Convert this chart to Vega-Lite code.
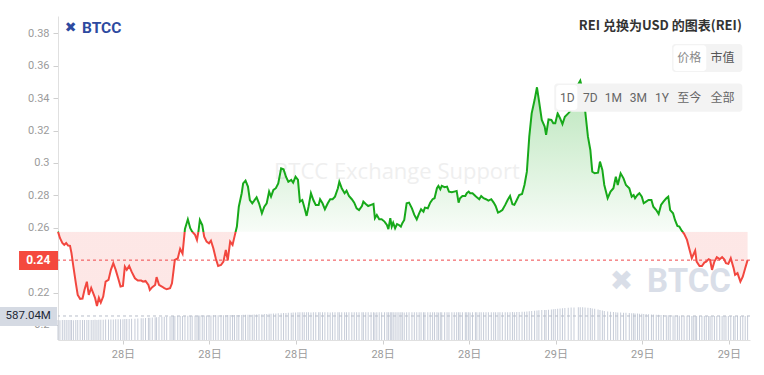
{
"$schema": "https://vega.github.io/schema/vega-lite/v6.json",
"width": 692, "height": 324,
"autosize": "none",
"padding": {"left": 58, "top": 16, "right": 14, "bottom": 35},
"background": "white",
"config": {
  "view": {"stroke": null},
  "axis": {"grid": false, "labelFont": "Roboto, Noto Sans CJK SC", "labelFontSize": 11, "labelColor": "#9b9b9b", "tickColor": "#cfcfcf", "domainColor": "#e0e0e0"},
  "axisX": {"tickSize": 4, "labelPadding": 4},
  "axisY": {"tickSize": 5, "labelPadding": 4}
},
"data": {"values": [
{"m":405,"p":0.2576,"v":489},{"m":409,"p":0.2537,"v":486},{"m":414,"p":0.2506,"v":490},{"m":418,"p":0.2494,"v":488},{"m":422,"p":0.2506,"v":491},{"m":426,"p":0.2490,"v":487},{"m":430,"p":0.2488,"v":489},{"m":433,"p":0.2444,"v":490},{"m":437,"p":0.2360,"v":486},{"m":442,"p":0.2259,"v":489},
{"m":446,"p":0.2185,"v":492},{"m":451,"p":0.2161,"v":488},{"m":456,"p":0.2163,"v":490},{"m":460,"p":0.2216,"v":487},{"m":465,"p":0.2267,"v":491},{"m":469,"p":0.2185,"v":489},{"m":474,"p":0.2229,"v":492},{"m":478,"p":0.2198,"v":490},{"m":482,"p":0.2167,"v":493},{"m":486,"p":0.2117,"v":491},
{"m":490,"p":0.2167,"v":495},{"m":494,"p":0.2138,"v":497},{"m":499,"p":0.2175,"v":496},{"m":504,"p":0.2267,"v":499},{"m":510,"p":0.2278,"v":501},{"m":515,"p":0.2340,"v":503},{"m":520,"p":0.2381,"v":502},{"m":525,"p":0.2340,"v":505},{"m":530,"p":0.2290,"v":507},{"m":535,"p":0.2237,"v":506},
{"m":540,"p":0.2241,"v":509},{"m":544,"p":0.2360,"v":511},{"m":548,"p":0.2340,"v":512},{"m":553,"p":0.2364,"v":515},{"m":558,"p":0.2329,"v":518},{"m":565,"p":0.2288,"v":521},{"m":571,"p":0.2274,"v":526},{"m":578,"p":0.2274,"v":531},{"m":582,"p":0.2267,"v":535},{"m":587,"p":0.2272,"v":539},
{"m":593,"p":0.2247,"v":544},{"m":596,"p":0.2216,"v":547},{"m":601,"p":0.2233,"v":551},{"m":607,"p":0.2247,"v":556},{"m":610,"p":0.2295,"v":558},{"m":615,"p":0.2247,"v":563},{"m":621,"p":0.2237,"v":567},{"m":626,"p":0.2227,"v":571},{"m":631,"p":0.2220,"v":575},{"m":638,"p":0.2227,"v":579},
{"m":642,"p":0.2257,"v":582},{"m":645,"p":0.2329,"v":584},{"m":648,"p":0.2401,"v":586},{"m":654,"p":0.2410,"v":588},{"m":659,"p":0.2470,"v":589},{"m":664,"p":0.2440,"v":590},{"m":669,"p":0.2593,"v":591},{"m":675,"p":0.2652,"v":592},{"m":680,"p":0.2597,"v":594},{"m":684,"p":0.2576,"v":593},
{"m":690,"p":0.2556,"v":595},{"m":694,"p":0.2525,"v":596},{"m":697,"p":0.2576,"v":597},{"m":700,"p":0.2648,"v":598},{"m":705,"p":0.2617,"v":598},{"m":709,"p":0.2545,"v":599},{"m":714,"p":0.2514,"v":600},{"m":719,"p":0.2504,"v":601},{"m":723,"p":0.2520,"v":602},{"m":728,"p":0.2473,"v":603},
{"m":733,"p":0.2412,"v":604},{"m":738,"p":0.2364,"v":605},{"m":744,"p":0.2370,"v":606},{"m":749,"p":0.2391,"v":607},{"m":754,"p":0.2463,"v":608},{"m":758,"p":0.2399,"v":609},{"m":763,"p":0.2514,"v":610},{"m":768,"p":0.2494,"v":611},{"m":772,"p":0.2545,"v":612},{"m":777,"p":0.2607,"v":612},
{"m":781,"p":0.2730,"v":613},{"m":787,"p":0.2813,"v":614},{"m":790,"p":0.2874,"v":615},{"m":795,"p":0.2891,"v":616},{"m":800,"p":0.2854,"v":617},{"m":804,"p":0.2771,"v":618},{"m":809,"p":0.2751,"v":620},{"m":813,"p":0.2767,"v":623},{"m":818,"p":0.2788,"v":626},{"m":823,"p":0.2751,"v":629},
{"m":829,"p":0.2689,"v":632},{"m":834,"p":0.2730,"v":635},{"m":839,"p":0.2751,"v":638},{"m":844,"p":0.2823,"v":641},{"m":848,"p":0.2792,"v":644},{"m":853,"p":0.2833,"v":647},{"m":858,"p":0.2844,"v":650},{"m":863,"p":0.2874,"v":653},{"m":869,"p":0.2967,"v":656},{"m":874,"p":0.2961,"v":659},
{"m":879,"p":0.2915,"v":662},{"m":884,"p":0.2884,"v":665},{"m":890,"p":0.2895,"v":668},{"m":894,"p":0.2878,"v":671},{"m":899,"p":0.2915,"v":674},{"m":904,"p":0.2895,"v":676},{"m":908,"p":0.2761,"v":677},{"m":913,"p":0.2771,"v":679},{"m":917,"p":0.2730,"v":676},{"m":922,"p":0.2673,"v":680},
{"m":926,"p":0.2730,"v":678},{"m":931,"p":0.2813,"v":675},{"m":936,"p":0.2771,"v":679},{"m":941,"p":0.2741,"v":677},{"m":947,"p":0.2741,"v":680},{"m":950,"p":0.2776,"v":676},{"m":955,"p":0.2751,"v":678},{"m":960,"p":0.2714,"v":681},{"m":966,"p":0.2751,"v":677},{"m":971,"p":0.2776,"v":675},
{"m":976,"p":0.2776,"v":679},{"m":981,"p":0.2792,"v":678},{"m":987,"p":0.2844,"v":680},{"m":990,"p":0.2884,"v":676},{"m":995,"p":0.2844,"v":679},{"m":1001,"p":0.2813,"v":677},{"m":1005,"p":0.2829,"v":681},{"m":1010,"p":0.2796,"v":678},{"m":1016,"p":0.2776,"v":676},{"m":1021,"p":0.2755,"v":679},
{"m":1026,"p":0.2720,"v":677},{"m":1031,"p":0.2709,"v":680},{"m":1037,"p":0.2734,"v":678},{"m":1040,"p":0.2761,"v":676},{"m":1045,"p":0.2747,"v":679},{"m":1050,"p":0.2734,"v":677},{"m":1056,"p":0.2741,"v":680},{"m":1061,"p":0.2747,"v":678},{"m":1064,"p":0.2659,"v":675},{"m":1068,"p":0.2679,"v":679},
{"m":1073,"p":0.2652,"v":677},{"m":1078,"p":0.2652,"v":680},{"m":1084,"p":0.2638,"v":678},{"m":1089,"p":0.2617,"v":676},{"m":1092,"p":0.2591,"v":679},{"m":1096,"p":0.2659,"v":677},{"m":1099,"p":0.2607,"v":681},{"m":1102,"p":0.2631,"v":678},{"m":1106,"p":0.2597,"v":676},{"m":1110,"p":0.2623,"v":679},
{"m":1114,"p":0.2617,"v":677},{"m":1118,"p":0.2607,"v":680},{"m":1121,"p":0.2628,"v":678},{"m":1125,"p":0.2648,"v":675},{"m":1130,"p":0.2751,"v":679},{"m":1135,"p":0.2755,"v":677},{"m":1141,"p":0.2720,"v":680},{"m":1146,"p":0.2679,"v":678},{"m":1151,"p":0.2652,"v":676},{"m":1156,"p":0.2689,"v":679},
{"m":1160,"p":0.2714,"v":677},{"m":1165,"p":0.2699,"v":681},{"m":1168,"p":0.2724,"v":678},{"m":1174,"p":0.2720,"v":676},{"m":1179,"p":0.2755,"v":679},{"m":1184,"p":0.2776,"v":677},{"m":1188,"p":0.2782,"v":680},{"m":1193,"p":0.2844,"v":678},{"m":1196,"p":0.2858,"v":675},{"m":1200,"p":0.2837,"v":679},
{"m":1203,"p":0.2858,"v":677},{"m":1209,"p":0.2850,"v":680},{"m":1214,"p":0.2854,"v":678},{"m":1218,"p":0.2823,"v":676},{"m":1224,"p":0.2819,"v":679},{"m":1229,"p":0.2823,"v":677},{"m":1234,"p":0.2827,"v":681},{"m":1238,"p":0.2755,"v":678},{"m":1241,"p":0.2782,"v":676},{"m":1246,"p":0.2796,"v":679},
{"m":1252,"p":0.2796,"v":677},{"m":1255,"p":0.2813,"v":680},{"m":1259,"p":0.2823,"v":678},{"m":1262,"p":0.2813,"v":675},{"m":1267,"p":0.2813,"v":679},{"m":1273,"p":0.2796,"v":677},{"m":1276,"p":0.2788,"v":680},{"m":1281,"p":0.2776,"v":678},{"m":1285,"p":0.2796,"v":676},{"m":1290,"p":0.2782,"v":679},
{"m":1295,"p":0.2776,"v":677},{"m":1300,"p":0.2767,"v":681},{"m":1306,"p":0.2776,"v":678},{"m":1311,"p":0.2755,"v":676},{"m":1315,"p":0.2734,"v":679},{"m":1320,"p":0.2693,"v":677},{"m":1324,"p":0.2699,"v":680},{"m":1329,"p":0.2709,"v":678},{"m":1335,"p":0.2741,"v":676},{"m":1340,"p":0.2771,"v":679},
{"m":1345,"p":0.2796,"v":680},{"m":1350,"p":0.2745,"v":682},{"m":1354,"p":0.2741,"v":681},{"m":1359,"p":0.2771,"v":684},{"m":1364,"p":0.2802,"v":686},{"m":1370,"p":0.2808,"v":688},{"m":1375,"p":0.2864,"v":691},{"m":1380,"p":0.2946,"v":697},{"m":1385,"p":0.3162,"v":703},{"m":1390,"p":0.3306,"v":710},
{"m":1396,"p":0.3388,"v":716},{"m":1401,"p":0.3467,"v":722},{"m":1405,"p":0.3388,"v":727},{"m":1411,"p":0.3265,"v":731},{"m":1417,"p":0.3224,"v":734},{"m":1420,"p":0.3173,"v":736},{"m":1425,"p":0.3269,"v":742},{"m":1431,"p":0.3265,"v":749},{"m":1435,"p":0.3245,"v":754},{"m":1439,"p":0.3245,"v":760},
{"m":1444,"p":0.3306,"v":766},{"m":1449,"p":0.3276,"v":772},{"m":1454,"p":0.3240,"v":777},{"m":1459,"p":0.3285,"v":782},{"m":1466,"p":0.3306,"v":788},{"m":1472,"p":0.3327,"v":793},{"m":1478,"p":0.3388,"v":797},{"m":1487,"p":0.3487,"v":800},{"m":1491,"p":0.3508,"v":801},{"m":1496,"p":0.3450,"v":799},
{"m":1501,"p":0.3327,"v":797},{"m":1507,"p":0.3162,"v":790},{"m":1512,"p":0.3080,"v":780},{"m":1516,"p":0.2946,"v":772},{"m":1521,"p":0.2936,"v":762},{"m":1528,"p":0.2940,"v":745},{"m":1532,"p":0.3008,"v":735},{"m":1537,"p":0.2957,"v":722},{"m":1541,"p":0.2864,"v":712},{"m":1548,"p":0.2782,"v":700},
{"m":1554,"p":0.2823,"v":692},{"m":1560,"p":0.2844,"v":685},{"m":1565,"p":0.2915,"v":678},{"m":1569,"p":0.2864,"v":674},{"m":1575,"p":0.2936,"v":670},{"m":1581,"p":0.2905,"v":667},{"m":1586,"p":0.2864,"v":664},{"m":1593,"p":0.2844,"v":660},{"m":1598,"p":0.2792,"v":656},{"m":1602,"p":0.2802,"v":652},
{"m":1605,"p":0.2782,"v":649},{"m":1610,"p":0.2802,"v":646},{"m":1614,"p":0.2813,"v":643},{"m":1619,"p":0.2792,"v":640},{"m":1623,"p":0.2751,"v":637},{"m":1628,"p":0.2761,"v":634},{"m":1633,"p":0.2771,"v":630},{"m":1639,"p":0.2771,"v":626},{"m":1643,"p":0.2730,"v":622},{"m":1649,"p":0.2709,"v":619},
{"m":1654,"p":0.2685,"v":616},{"m":1659,"p":0.2741,"v":613},{"m":1664,"p":0.2761,"v":610},{"m":1670,"p":0.2782,"v":607},{"m":1674,"p":0.2792,"v":605},{"m":1678,"p":0.2709,"v":603},{"m":1684,"p":0.2689,"v":601},{"m":1688,"p":0.2648,"v":599},{"m":1693,"p":0.2611,"v":597},{"m":1697,"p":0.2607,"v":595},
{"m":1702,"p":0.2582,"v":594},{"m":1707,"p":0.2562,"v":593},{"m":1713,"p":0.2525,"v":591},{"m":1718,"p":0.2467,"v":590},{"m":1723,"p":0.2412,"v":589},{"m":1726,"p":0.2432,"v":588},{"m":1730,"p":0.2459,"v":590},{"m":1733,"p":0.2391,"v":587},{"m":1739,"p":0.2364,"v":589},{"m":1744,"p":0.2364,"v":588},
{"m":1749,"p":0.2385,"v":590},{"m":1753,"p":0.2391,"v":587},{"m":1758,"p":0.2406,"v":589},{"m":1761,"p":0.2401,"v":588},{"m":1765,"p":0.2340,"v":590},{"m":1770,"p":0.2391,"v":587},{"m":1775,"p":0.2418,"v":589},{"m":1781,"p":0.2406,"v":588},{"m":1786,"p":0.2418,"v":590},{"m":1790,"p":0.2406,"v":587},
{"m":1794,"p":0.2381,"v":589},{"m":1799,"p":0.2377,"v":588},{"m":1804,"p":0.2412,"v":590},{"m":1810,"p":0.2350,"v":587},{"m":1813,"p":0.2309,"v":589},{"m":1818,"p":0.2320,"v":588},{"m":1824,"p":0.2267,"v":590},{"m":1829,"p":0.2298,"v":588},{"m":1834,"p":0.2350,"v":589},{"m":1839,"p":0.2400,"v":587.04}
]},
"layer": [
 {"data": {"values": [{}]}, "layer": [
    {"mark": {"type": "text", "text": "BTCC Exchange Support", "font": "Open Sans", "fontSize": 22, "color": "#efefef", "align": "center", "baseline": "middle"},
     "encoding": {"x": {"datum": 1110}, "y": {"datum": 0.2946, "scale": {"domain": [0.1907, 0.3907], "nice": false, "zero": false}, "axis": null}}},
    {"mark": {"type": "text", "text": "✖", "font": "DejaVu Sans", "fontSize": 28, "fontWeight": "bold", "color": "#d9dee8", "align": "center", "baseline": "middle"},
     "encoding": {"x": {"datum": 1577}, "y": {"datum": 0.2262, "axis": null}}},
    {"mark": {"type": "text", "text": "BTCC", "font": "Roboto", "fontSize": 33, "fontWeight": "bold", "color": "#d9dee8", "align": "left", "baseline": "middle"},
     "encoding": {"x": {"datum": 1630}, "y": {"datum": 0.2262, "axis": null}}}
 ]},
 {"layer": [
  {"mark": {"type": "area", "fill": {"gradient": "linear", "x1": 0, "y1": 0, "x2": 0, "y2": 1, "stops": [
      {"offset": 0, "color": "rgba(23,169,26,0.30)"}, {"offset": 0.6705, "color": "rgba(23,169,26,0.03)"},
      {"offset": 0.6705, "color": "rgba(242,71,63,0.13)"}, {"offset": 1, "color": "rgba(242,71,63,0.13)"}]}},
   "encoding": {
     "x": {"field": "m", "type": "quantitative", "scale": {"domain": [405, 1844], "nice": false, "zero": false, "padding": 0},
           "axis": {"values": [540, 720, 900, 1080, 1260, 1440, 1620, 1800], "labelExpr": "datum.value < 1440 ? '28日' : '29日'", "title": null}},
     "y": {"field": "p", "type": "quantitative", "scale": {"domain": [0.1907, 0.3907], "nice": false, "zero": false},
           "axis": {"values": [0.2, 0.22, 0.24, 0.26, 0.28, 0.3, 0.32, 0.34, 0.36, 0.38], "labelExpr": "format(datum.value, '~g')", "title": null, "labelOverlap": false}},
     "y2": {"datum": 0.2575}
   }},
  {"mark": {"type": "line", "strokeWidth": 2, "stroke": {"gradient": "linear", "x1": 0, "y1": 0, "x2": 0, "y2": 1, "stops": [
      {"offset": 0, "color": "#17a91a"}, {"offset": 0.6705, "color": "#17a91a"},
      {"offset": 0.6705, "color": "#f2473f"}, {"offset": 1, "color": "#f2473f"}]}},
   "encoding": {
     "x": {"field": "m", "type": "quantitative", "scale": {"domain": [405, 1844], "nice": false, "zero": false, "padding": 0},
           "axis": {"values": [540, 720, 900, 1080, 1260, 1440, 1620, 1800], "labelExpr": "datum.value < 1440 ? '28日' : '29日'", "title": null}},
     "y": {"field": "p", "type": "quantitative", "scale": {"domain": [0.1907, 0.3907], "nice": false, "zero": false},
           "axis": {"values": [0.2, 0.22, 0.24, 0.26, 0.28, 0.3, 0.32, 0.34, 0.36, 0.38], "labelExpr": "format(datum.value, '~g')", "title": null, "labelOverlap": false}}
   }}
 ]},
 {"data": {"values": [{}]}, "layer": [
    {"mark": {"type": "rule", "color": "#f0474a", "strokeWidth": 1, "strokeDash": [3, 3]},
     "encoding": {"y": {"datum": 0.24, "scale": {"domain": [0.1907, 0.3907], "nice": false, "zero": false}, "axis": null}}},
    {"mark": {"type": "rect", "color": "#f4493e"},
     "encoding": {"x": {"datum": 324}, "x2": {"datum": 405}, "y": {"datum": 0.2456, "axis": null}, "y2": {"datum": 0.2339}}},
    {"mark": {"type": "text", "text": "0.24", "font": "Roboto", "fontSize": 12, "fontWeight": "bold", "color": "white", "align": "center", "baseline": "middle"},
     "encoding": {"x": {"datum": 364}, "y": {"datum": 0.2398, "axis": null}}},
    {"mark": {"type": "text", "text": "✖", "font": "DejaVu Sans", "fontSize": 14, "fontWeight": "bold", "color": "#2d4aa0", "align": "center", "baseline": "middle"},
     "encoding": {"x": {"datum": 431}, "y": {"datum": 0.3833, "axis": null}}},
    {"mark": {"type": "text", "text": "BTCC", "font": "Roboto", "fontSize": 15.5, "fontWeight": "bold", "color": "#2d4aa0", "align": "left", "baseline": "middle"},
     "encoding": {"x": {"datum": 455}, "y": {"datum": 0.3833, "axis": null}}},
    {"mark": {"type": "text", "text": "REI 兑换为USD 的图表(REI)", "font": "Noto Sans CJK SC", "fontSize": 13, "fontWeight": "bold", "color": "#333333", "align": "right", "baseline": "middle"},
     "encoding": {"x": {"datum": 1827}, "y": {"datum": 0.3848, "axis": null}}},
    {"mark": {"type": "rect", "color": "#f3f3f3", "cornerRadius": 3},
     "encoding": {"x": {"datum": 1682}, "x2": {"datum": 1828}, "y": {"datum": 0.3734, "axis": null}, "y2": {"datum": 0.3561}}},
    {"mark": {"type": "rect", "color": "#ffffff", "cornerRadius": 3},
     "encoding": {"x": {"datum": 1685}, "x2": {"datum": 1753}, "y": {"datum": 0.3726, "axis": null}, "y2": {"datum": 0.3568}}},
    {"mark": {"type": "text", "text": "价格", "font": "Noto Sans CJK SC", "fontSize": 12, "color": "#8a8a8a", "align": "center", "baseline": "middle"},
     "encoding": {"x": {"datum": 1717.5}, "y": {"datum": 0.3648, "axis": null}}},
    {"mark": {"type": "text", "text": "市值", "font": "Noto Sans CJK SC", "fontSize": 12, "color": "#555555", "align": "center", "baseline": "middle"},
     "encoding": {"x": {"datum": 1787}, "y": {"datum": 0.3648, "axis": null}}},
    {"mark": {"type": "rect", "color": "#f3f3f3", "cornerRadius": 3},
     "encoding": {"x": {"datum": 1437}, "x2": {"datum": 1828}, "y": {"datum": 0.3491, "axis": null}, "y2": {"datum": 0.3316}}},
    {"mark": {"type": "rect", "color": "#ffffff", "cornerRadius": 3},
     "encoding": {"x": {"datum": 1441}, "x2": {"datum": 1485}, "y": {"datum": 0.3481, "axis": null}, "y2": {"datum": 0.3327}}},
    {"mark": {"type": "text", "text": "1D", "font": "Roboto", "fontSize": 12, "color": "#666666", "align": "center", "baseline": "middle"},
     "encoding": {"x": {"datum": 1464}, "y": {"datum": 0.3399, "axis": null}}},
    {"mark": {"type": "text", "text": "7D", "font": "Roboto", "fontSize": 12, "color": "#666666", "align": "center", "baseline": "middle"},
     "encoding": {"x": {"datum": 1512}, "y": {"datum": 0.3399, "axis": null}}},
    {"mark": {"type": "text", "text": "1M", "font": "Roboto", "fontSize": 12, "color": "#666666", "align": "center", "baseline": "middle"},
     "encoding": {"x": {"datum": 1560}, "y": {"datum": 0.3399, "axis": null}}},
    {"mark": {"type": "text", "text": "3M", "font": "Roboto", "fontSize": 12, "color": "#666666", "align": "center", "baseline": "middle"},
     "encoding": {"x": {"datum": 1612}, "y": {"datum": 0.3399, "axis": null}}},
    {"mark": {"type": "text", "text": "1Y", "font": "Roboto", "fontSize": 12, "color": "#666666", "align": "center", "baseline": "middle"},
     "encoding": {"x": {"datum": 1661}, "y": {"datum": 0.3399, "axis": null}}},
    {"mark": {"type": "text", "text": "至今", "font": "Noto Sans CJK SC", "fontSize": 12, "color": "#666666", "align": "center", "baseline": "middle"},
     "encoding": {"x": {"datum": 1717.5}, "y": {"datum": 0.3399, "axis": null}}},
    {"mark": {"type": "text", "text": "全部", "font": "Noto Sans CJK SC", "fontSize": 12, "color": "#666666", "align": "center", "baseline": "middle"},
     "encoding": {"x": {"datum": 1787}, "y": {"datum": 0.3399, "axis": null}}}
 ]},
 {"layer": [
  {"mark": {"type": "bar", "width": 1, "color": "#c6ccd8"},
   "encoding": {"x": {"field": "m", "type": "quantitative", "scale": {"padding": 0}},
                "y": {"field": "v", "type": "quantitative", "scale": {"domain": [0, 7925], "nice": false}, "axis": null}}},
  {"data": {"values": [{}]}, "layer": [
    {"mark": {"type": "rule", "color": "#b8bec9", "strokeWidth": 1, "strokeDash": [3, 3]},
     "encoding": {"y": {"datum": 587.04, "axis": null}}},
    {"mark": {"type": "rect", "color": "#d5dae3"},
     "encoding": {"x": {"datum": 284}, "x2": {"datum": 403}, "y": {"datum": 807, "axis": null}, "y2": {"datum": 342}}},
    {"mark": {"type": "text", "text": "587.04M", "font": "Roboto", "fontSize": 11.5, "color": "#1f2937", "align": "center", "baseline": "middle"},
     "encoding": {"x": {"datum": 343}, "y": {"datum": 575, "axis": null}}}
  ]}
 ]}
],
"resolve": {"scale": {"y": "independent"}}
}
